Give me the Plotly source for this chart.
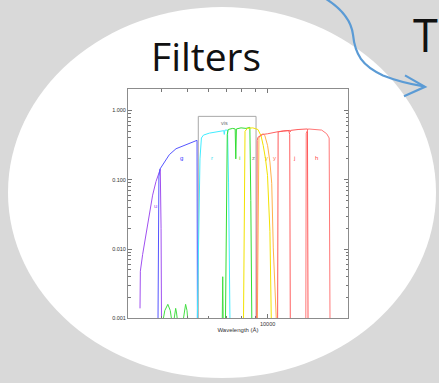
import math
import plotly.graph_objects as go

W, H = 439, 383

# ---- filter throughput curves: wavelength (Angstrom) and transmission ----
u_lam = [3327, 3337, 3404, 3497, 3606, 3710, 3818, 3930, 3963, 3990, 4005]
u_T = [0.0014, 0.0048, 0.0084, 0.0162, 0.035, 0.060, 0.094, 0.133, 0.142, 0.02, 0.0008]

g_lam = [3885, 3900, 3916, 3950, 4103, 4285, 4539, 4944, 5234, 5416, 5440, 5460]
g_T = [0.0008, 0.01, 0.11, 0.142, 0.181, 0.230, 0.280, 0.323, 0.349, 0.373, 0.37, 0.0008]

r_lam = [5450, 5520, 5580, 5650, 5750, 6050, 6600, 6850, 6882, 6920, 7080, 7140, 7230]
r_T = [0.0008, 0.02, 0.20, 0.40, 0.44, 0.47, 0.50, 0.51, 0.45, 0.52, 0.52, 0.09, 0.0008]

i_lam = [6950, 7000, 7060, 7120, 7400, 7560, 7600, 7640, 7950, 8300, 8580, 8650, 8730]
i_T = [0.0008, 0.05, 0.45, 0.53, 0.55, 0.54, 0.20, 0.54, 0.56, 0.55, 0.57, 0.05, 0.0008]

# out-of-band leaks of the i filter
leak_lam = [4050, 4120, 4230, 4320, 4380, None,
            4450, 4490, 4525, 4560, 4600, None,
            4820, 4870, 4930, 4990, 5030, None,
            6760, 6790, 6820]
leak_T = [0.0009, 0.0013, 0.0016, 0.0013, 0.0009, None,
          0.0009, 0.0012, 0.0014, 0.0012, 0.0009, None,
          0.0009, 0.0013, 0.0016, 0.0013, 0.0009, None,
          0.0008, 0.004, 0.0008]

z_lam = [8120, 8180, 8230, 8400, 8800, 9200, 9450, 9630, 9820, 9990, 10200, 10330]
z_T = [0.0008, 0.01, 0.50, 0.55, 0.56, 0.53, 0.43, 0.31, 0.20, 0.116, 0.018, 0.0008]

y_lam = [9150, 9220, 9280, 9400, 9630, 9770, 10000, 10200, 10360, 10500, 10700, 10800]
y_T = [0.0008, 0.02, 0.40, 0.44, 0.46, 0.43, 0.31, 0.18, 0.089, 0.0104, 0.0015, 0.0008]

Y_lam = [9100, 9140, 9200, 9600, 10000, 10500, 11000, 11500, 12000, 12100, 12160]
Y_T = [0.0008, 0.37, 0.41, 0.45, 0.46, 0.48, 0.495, 0.505, 0.51, 0.45, 0.0008]

J_lam = [10900, 10950, 11500, 12100, 12150, 12200, 13000, 13800, 14100, 14170]
J_T = [0.0008, 0.49, 0.505, 0.515, 0.49, 0.515, 0.53, 0.54, 0.54, 0.0008]

H_lam = [13900, 13950, 14200, 15000, 15940, 16645, 17000, 17130]
H_T = [0.0008, 0.47, 0.54, 0.53, 0.52, 0.46, 0.40, 0.0008]

# visible-band bracket
vis_lam = [5500, 5500, 9050, 9050]
vis_T = [0.0005, 0.82, 0.82, 0.0005]

# band labels: text, wavelength, transmission, colour
band_text = ["u", "g", "r", "i", "z", "y", "y", "j", "h"]
band_lam = [3808, 4767, 6172, 7880, 8838, 9920, 10656, 12588, 15265]
band_T = [0.042, 0.206, 0.206, 0.206, 0.206, 0.206, 0.206, 0.206, 0.206]
band_color = ["#a050f0", "#3030ff", "#30e0f0", "#30d030", "#8a8a7a",
              "#f0c000", "#ff7050", "#ff4040", "#ff4040"]

y_tickvals = [0.001, 0.01, 0.1, 1.0]
y_ticktext = ["0.001", "0.010", "0.100", "1.000"]
x_tickvals = [10000]
x_ticktext = ["10000"]
x_minor = [4000, 5000, 6000, 7000, 8000, 9000]


def px(x):
    return x / W


def py(y):
    return 1 - y / H


fig = go.Figure()

fig.add_trace(go.Scatter(x=vis_lam, y=vis_T, mode="lines",
                         line=dict(color="#a8a8a8", width=1)))

curves = [
    (u_lam, u_T, "#a050f0"),
    (g_lam, g_T, "#5555ff"),
    (leak_lam, leak_T, "#44dd44"),
    (r_lam, r_T, "#40ecff"),
    (i_lam, i_T, "#33dd33"),
    (z_lam, z_T, "#f2e200"),
    (y_lam, y_T, "#ffb24a"),
    (Y_lam, Y_T, "#ff6060"),
    (J_lam, J_T, "#ff5a5a"),
    (H_lam, H_T, "#ff7878"),
]
for lam, T, col in curves:
    fig.add_trace(go.Scatter(x=lam, y=T, mode="lines",
                             line=dict(color=col, width=1),
                             connectgaps=False))

annotations = []
for t, lam, T, col in zip(band_text, band_lam, band_T, band_color):
    annotations.append(dict(x=math.log10(lam), y=math.log10(T), xref="x", yref="y",
                            text=t, showarrow=False,
                            font=dict(size=6, color=col, family="Liberation Sans")))
annotations.append(dict(x=math.log10(6869), y=math.log10(0.66), xref="x", yref="y",
                        text="vis", showarrow=False,
                        font=dict(size=5.5, color="#707070", family="Liberation Sans")))
annotations.append(dict(x=px(205.5), y=py(56), xref="paper", yref="paper",
                        text="Filters", showarrow=False, xanchor="center", yanchor="middle",
                        font=dict(size=39, color="#111111", family="Open Sans")))
annotations.append(dict(x=px(438.5), y=py(35), xref="paper", yref="paper",
                        text="T", showarrow=False, xanchor="right", yanchor="middle",
                        borderpad=0,
                        font=dict(size=45, color="#111111", family="Open Sans")))


def path(points_cmds):
    out = []
    for cmd, pts in points_cmds:
        coords = " ".join(f"{px(x):.5f},{py(y):.5f}" for x, y in pts)
        out.append(f"{cmd} {coords}")
    return " ".join(out)


arrow_body = path([("M", [(323, -3)]),
                   ("C", [(338, 6), (351, 18), (353, 35)]),
                   ("C", [(355, 55), (362, 66), (383, 76)]),
                   ("C", [(398, 82), (412, 85), (424, 87)])])
arrow_head = path([("M", [(405, 76)]), ("L", [(425, 87.5)]), ("L", [(404, 97)])])

shapes = [
    dict(type="circle", xref="paper", yref="paper",
         x0=px(222 - 214), x1=px(222 + 214), y0=py(195 + 186), y1=py(195 - 188),
         fillcolor="white", line=dict(width=0), layer="below"),
    dict(type="path", xref="paper", yref="paper", path=arrow_body,
         line=dict(color="#5b9bd5", width=2.2), layer="above"),
    dict(type="path", xref="paper", yref="paper", path=arrow_head,
         line=dict(color="#5b9bd5", width=2.2), layer="above"),
]

axis_common = dict(showline=True, linecolor="#8c8c8c", linewidth=1, mirror="ticks",
                   ticks="inside", tickcolor="#777777", ticklen=4, tickwidth=1,
                   showgrid=False, zeroline=False,
                   tickfont=dict(size=5.5, color="#333333", family="Liberation Sans"))

fig.update_layout(
    width=W, height=H,
    margin=dict(l=0, r=0, t=0, b=0),
    paper_bgcolor="#d9d9d9",
    plot_bgcolor="white",
    showlegend=False,
    hovermode=False,
    xaxis=dict(type="log", range=[math.log10(3000), math.log10(20000)],
               domain=[px(128), px(348)],
               tickmode="array", tickvals=x_tickvals, ticktext=x_ticktext,
               minor=dict(tickmode="array", tickvals=x_minor, ticks="inside",
                          ticklen=2.5, tickcolor="#777777"),
               title=dict(text="Wavelength (Å)", standoff=1,
                          font=dict(size=6, color="#333333", family="Liberation Sans")),
               **axis_common),
    yaxis=dict(type="log", range=[-3, 0.304],
               domain=[py(321), py(90)],
               tickmode="array", tickvals=y_tickvals, ticktext=y_ticktext,
               minor=dict(tickmode="array",
                          tickvals=[k * 10.0 ** e for e in (-3, -2, -1, 0) for k in range(2, 10)],
                          ticks="inside", ticklen=2.5, tickcolor="#777777"),
               **axis_common),
    annotations=annotations,
    shapes=shapes,
)

fig.write_html("out.html")
